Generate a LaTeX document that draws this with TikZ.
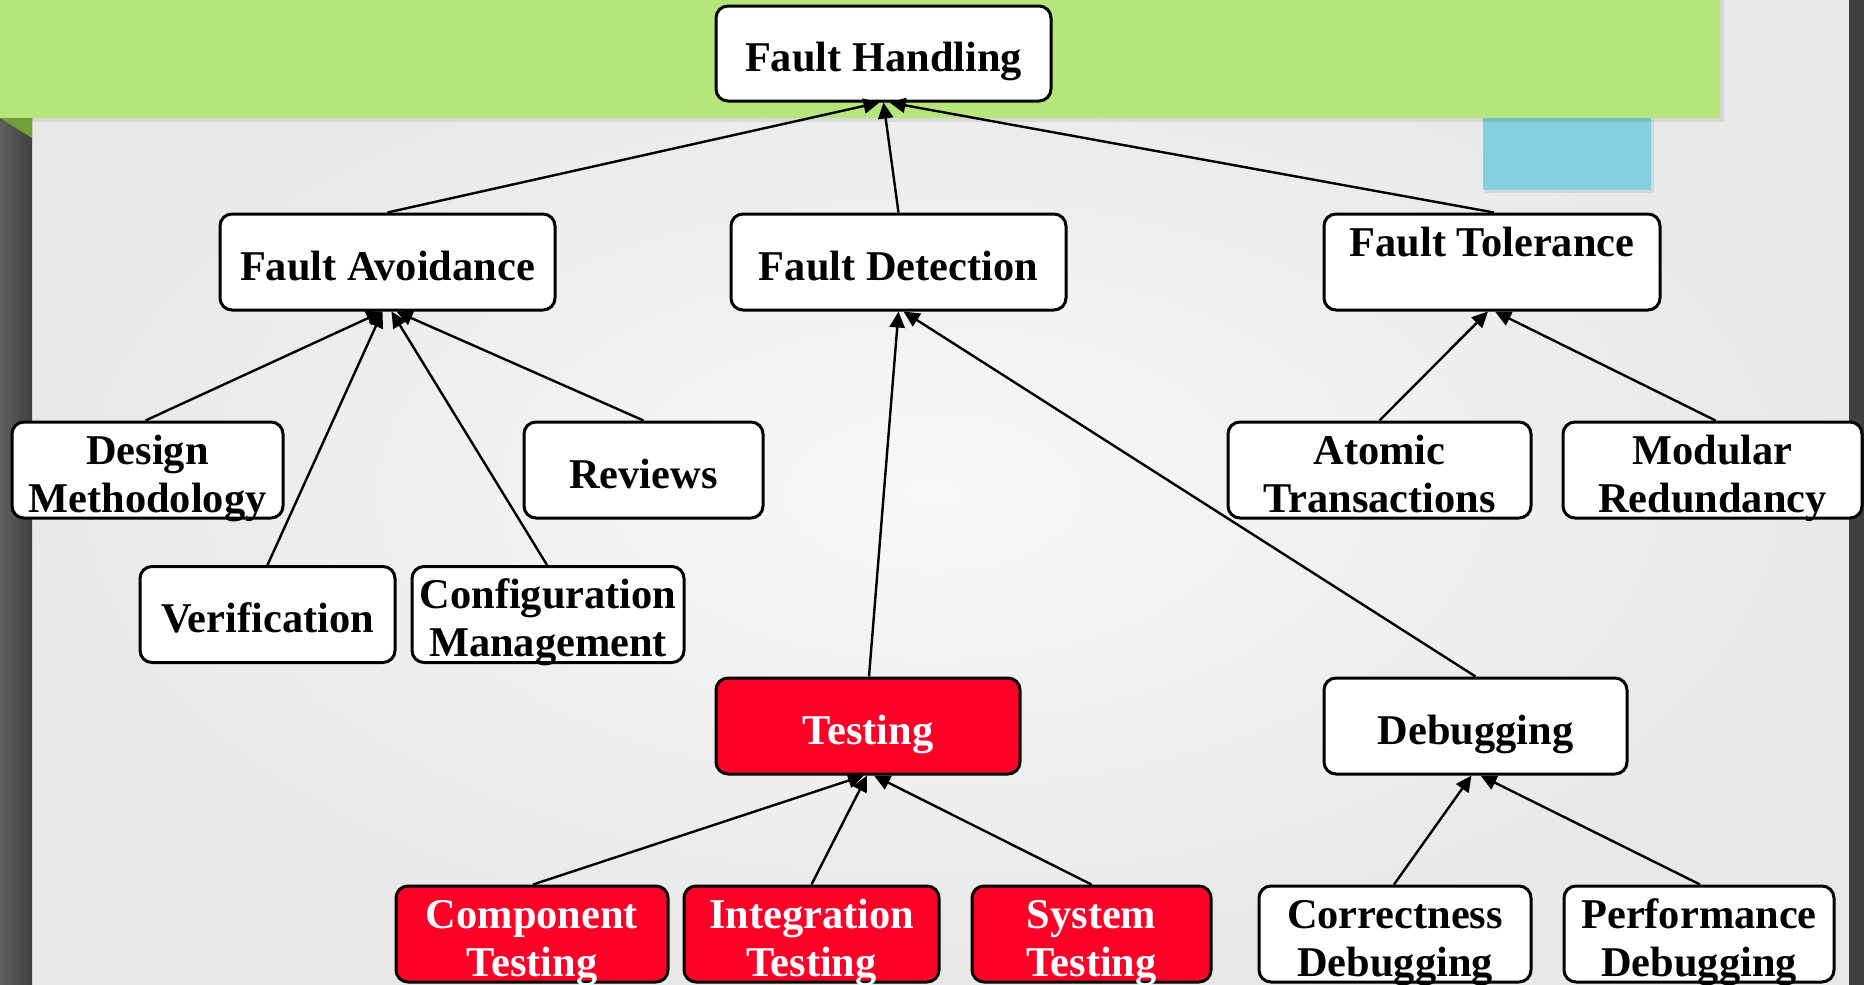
\documentclass[tikz,border=0pt]{standalone}
\usepackage{fontspec}
\setmainfont{Liberation Serif}
\usetikzlibrary{arrows.meta}
\definecolor{bandgreen}{RGB}{182,230,123}
\definecolor{darkgreen}{RGB}{112,160,58}
\definecolor{cyanbox}{RGB}{131,208,222}
\definecolor{boxred}{RGB}{252,0,40}
\definecolor{bgin}{RGB}{248,248,248}
\definecolor{bgout}{RGB}{232,232,232}
\definecolor{stripL}{RGB}{96,96,96}
\definecolor{stripR}{RGB}{64,64,64}
\begin{document}
\begin{tikzpicture}[x=0.5pt,y=-0.5pt,
  box/.style={draw=black, line width=1.5pt, rounded corners=6pt, fill=white,
    align=center, font=\bfseries\fontsize{21.2pt}{24pt}\selectfont,
    text depth=0pt, text height=18pt, inner sep=0pt, minimum height=48pt},
  two/.style={text height=42pt},
  redbox/.style={box, fill=boxred, text=white},
  link/.style={line width=1.2pt, -{Triangle[length=8pt,width=7.5pt]}},
  shadowfill/.style={fill=black, opacity=0.08}
]
\useasboundingbox (0,0) rectangle (1864,985);
% background
\fill[bgout] (0,0) rectangle (1864,985);
\shade[inner color=bgin, outer color=bgout] (0,0) rectangle (1864,985);
% side strips
\shade[left color=stripL, right color=stripR] (0,118) rectangle (32,985);
\fill[stripR] (1849,0) rectangle (1864,985);
% cyan box
\fill[shadowfill] (1485,120) rectangle (1654,193);
\fill[cyanbox] (1483,118) rectangle (1651,190);
% green band
\fill[shadowfill] (0,0) rectangle (1724,122);
\fill[bandgreen] (0,0) rectangle (1720,118);
\fill[darkgreen] (0,118) -- (32,118) -- (32,138) -- cycle;

% nodes
\node[box, minimum width=167.5pt, minimum height=47.5pt] (fh) at (883.5,53.5) {Fault Handling};
\node[box, minimum width=167.5pt] (fa) at (387.5,262) {Fault Avoidance};
\node[box, minimum width=167.5pt] (fd) at (898.5,262) {Fault Detection};
\node[box, two, minimum width=168pt] (ft) at (1492,262) {Fault Tolerance\\\mbox{}};
\node[box, two, minimum width=135.5pt] (dm) at (147.5,470) {Design\\Methodology};
\node[box, minimum width=119.5pt] (rv) at (643.5,470) {Reviews};
\node[box, minimum width=127.5pt] (vf) at (267.5,614.5) {Verification};
\node[box, two, minimum width=136pt] (cm) at (548,614.5) {Configuration\\Management};
\node[box, two, minimum width=151.5pt] (at) at (1379.5,470) {Atomic\\Transactions};
\node[box, two, minimum width=149.5pt] (mr) at (1712.5,470) {Modular\\Redundancy};
\node[redbox, minimum width=152pt] (ts) at (868,726) {Testing};
\node[box, minimum width=151.5pt] (db) at (1475.5,726) {Debugging};
\node[redbox, two, minimum width=136pt] (ct) at (532,934) {Component\\Testing};
\node[redbox, two, minimum width=127.5pt] (it) at (811.5,934) {Integration\\Testing};
\node[redbox, two, minimum width=119.5pt] (st) at (1091.5,934) {System\\Testing};
\node[box, two, minimum width=136pt] (cd) at (1395,934) {Correctness\\Debugging};
\node[box, two, minimum width=135pt] (pd) at (1699,934) {Performance\\Debugging};

% connectors
\draw[link] (fa.north) -- ([xshift=-2pt]fh.south);
\draw[link] (fd.north) -- (fh.south);
\draw[link] ([xshift=1pt]ft.north) -- ([xshift=3pt]fh.south);
\draw[link] ([xshift=-1pt]dm.north) -- ([xshift=-2.5pt]fa.south);
\draw[link] (vf.north) -- ([xshift=-2.5pt]fa.south);
\draw[link] ([xshift=-0.5pt]cm.north) -- ([xshift=2pt]fa.south);
\draw[link] (rv.north) -- ([xshift=4.5pt]fa.south);
\draw[link] ([xshift=0.5pt]ts.north) -- (fd.south);
\draw[link] (db.north) -- ([xshift=2.5pt]fd.south);
\draw[link] (at.north) -- ([xshift=-2pt]ft.south);
\draw[link] ([xshift=1.5pt]mr.north) -- ([xshift=1.5pt]ft.south);
\draw[link] ([xshift=0.5pt]ct.north) -- ([xshift=-2pt]ts.south);
\draw[link] (it.north) -- ([xshift=-0.5pt]ts.south);
\draw[link] (st.north) -- ([xshift=3pt]ts.south);
\draw[link] ([xshift=-0.5pt]cd.north) -- ([xshift=-2pt]db.south);
\draw[link] ([xshift=0.5pt]pd.north) -- ([xshift=2.5pt]db.south);
\end{tikzpicture}
\end{document}
